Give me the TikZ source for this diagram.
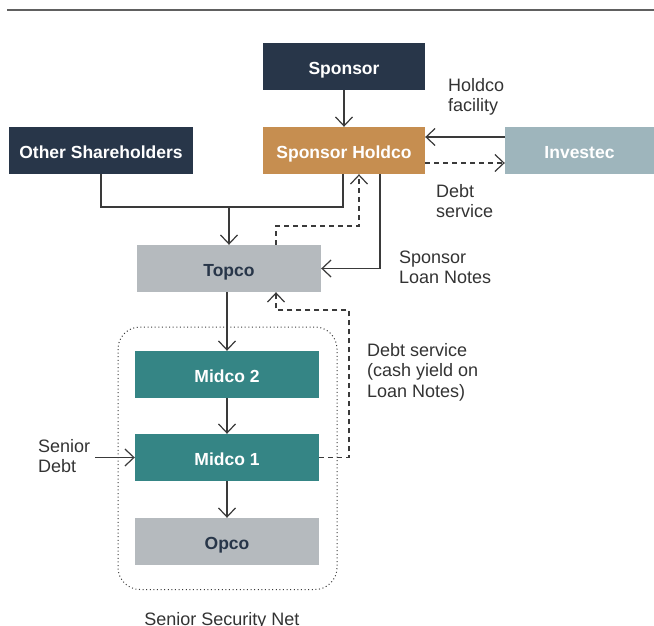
\documentclass[tikz,border=0pt]{standalone}
\usepackage{fontspec}
\setmainfont{Liberation Sans}
\usetikzlibrary{arrows.meta}
\definecolor{navy}{HTML}{283649}
\definecolor{ochre}{HTML}{C68E50}
\definecolor{invc}{HTML}{9EB5BC}
\definecolor{greyc}{HTML}{B5BABE}
\definecolor{tealc}{HTML}{358585}
\definecolor{linec}{HTML}{3A3A3A}
\definecolor{txtc}{HTML}{333333}
\definecolor{rulec}{HTML}{606060}
\begin{document}
\begin{tikzpicture}[x=1pt,y=-1pt,
  box/.style={minimum width=184pt, minimum height=47pt, inner sep=0pt, text height=16pt, text depth=0pt, font=\fontsize{17.5}{20}\selectfont\bfseries, text=white},
  arr/.style={-{Straight Barb[length=9pt,width=17pt]}, line width=1.2pt, draw=linec},
  darr/.style={arr, dash pattern=on 5pt off 4pt},
  plain/.style={line width=1.2pt, draw=linec},
  note/.style={font=\fontsize{18}{20.5}\selectfont, text=txtc, align=left, inner sep=0pt, anchor=west},
  net/.style={draw=linec, line width=1pt, dash pattern=on 1pt off 2.6pt, rounded corners=22pt}
]
\useasboundingbox (0,0) rectangle (654,626);
\draw[rulec, line width=1.6pt] (7,9.8) -- (654,9.8);

% nodes
\node[box, fill=navy, minimum width=162pt] (spon) at (344,66.5) {Sponsor};
\node[box, fill=ochre, minimum width=162pt] (hold) at (344,150.5) {Sponsor Holdco};
\node[box, fill=invc, minimum width=149pt] (inv) at (579.5,150.5) {Investec};
\node[box, fill=navy] (oth) at (101,150.5) {Other Shareholders};
\node[box, fill=greyc, text=navy] (topco) at (229,268.5) {Topco};
\node[box, fill=tealc] (mid2) at (227,374.5) {Midco 2};
\node[box, fill=tealc] (mid1) at (227,457.5) {Midco 1};
\node[box, fill=greyc, text=navy] (opco) at (227,541.5) {Opco};

% security net
\draw[net] (118,327) rectangle (337,589.5);
\node[font=\fontsize{18}{20.5}\selectfont, text=txtc, anchor=base] (netlbl) at (222,625.5) {Senior Security Net};

% labels
\node[note] (lhf) at (448,97) {Holdco\\facility};
\node[note] (lds) at (436,201) {Debt\\service};
\node[note] (lsl) at (399,267.5) {Sponsor\\Loan Notes};
\node[note] (ldc) at (367,372) {Debt service\\(cash yield on\\Loan Notes)};
\node[note] (lsd) at (38,456) {Senior\\Debt};

% coordinates
\coordinate (j2) at (343,207);
\coordinate (d1) at (276,226);
\coordinate (d2) at (359,226);
\coordinate (l1) at (380,268);
\coordinate (e1) at (349,310);
\coordinate (e2) at (276,310);
\coordinate (sd) at (95,457.5);
\coordinate (yf) at (0,137);
\coordinate (yd) at (0,163);

% connectors
\draw[arr] (spon.south) -- (hold.north);
\draw[arr] (inv.west |- yf) -- (hold.east |- yf);
\draw[darr] (hold.east |- yd) -- (inv.west |- yd);
\draw[plain] (oth.south) |- (j2) -- (hold.south -| j2);
\draw[arr] (topco.north |- j2) -- (topco.north);
\draw[darr] (topco.north -| d1) |- (d2) -- (hold.south -| d2);
\draw[arr] (hold.south -| l1) |- (topco.east);
\draw[darr] (mid1.east) -| (e1) -- (e2) -- (topco.south -| e2);
\draw[arr] (topco.south -| mid2.north) -- (mid2.north);
\draw[arr] (mid2.south) -- (mid1.north);
\draw[arr] (mid1.south) -- (opco.north);
\draw[arr] (sd) -- (mid1.west);
\end{tikzpicture}
\end{document}
